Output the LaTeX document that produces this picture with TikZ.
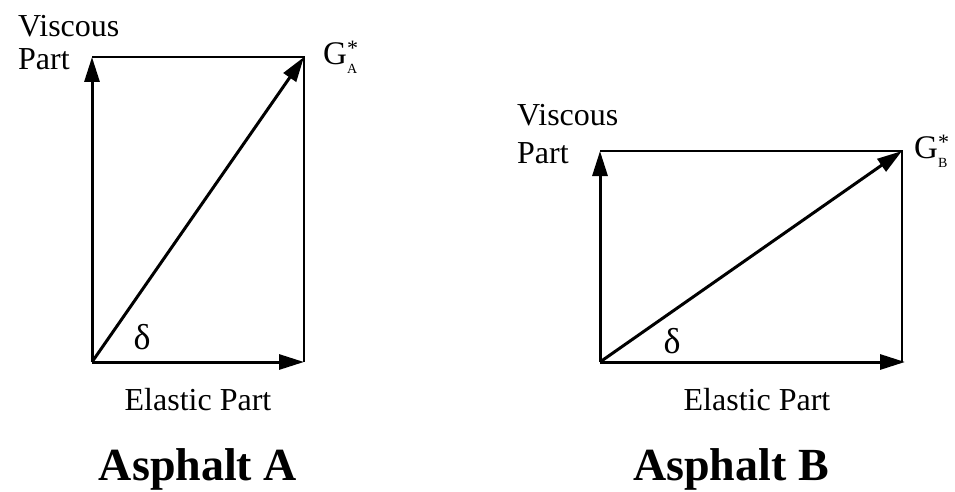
\documentclass[tikz,border=0pt]{standalone}
\usepackage{fontspec}
\setmainfont{Liberation Serif}
\usetikzlibrary{arrows.meta}
\newcommand{\gstar}[1]{G\rlap{\raisebox{9pt}{\fontsize{22}{22}\selectfont *}}\raisebox{-9pt}{\fontsize{14}{14}\selectfont #1}}
\begin{document}
\begin{tikzpicture}[x=1pt,y=-1pt,
  vec/.style={line width=3pt,-{Triangle[length=25pt,width=15pt]}},
  edge/.style={line width=2pt},
  lbl/.style={font=\fontsize{32}{34}\selectfont,inner sep=0pt},
  dl/.style={font=\fontsize{36}{38}\selectfont,inner sep=0pt},
  ttl/.style={font=\fontsize{46}{50}\selectfont\bfseries,inner sep=0pt,anchor=base},
  gl/.style={font=\fontsize{33}{34}\selectfont,inner sep=0pt,anchor=west}]
\useasboundingbox (0,0) rectangle (955,492);
% Asphalt A
\coordinate (a0) at (92,362);
\coordinate (ax) at (304,362);
\coordinate (ay) at (92,57);
\coordinate (ag) at (304,57);
\draw[edge] (ay) -- (ag) -- (ax);
\draw[vec] (a0) -- (ay);
\draw[vec] (a0) -- (ax);
\draw[vec] (a0) -- (ag);
\node[lbl,anchor=base west] (av) at (18,37) {Viscous};
\node[lbl,anchor=base west] (ap) at (18,70) {Part};
\node[gl] (agl) at (323,57) {\gstar{A}};
\node[dl] (ad) at (142,337) {δ};
\node[lbl] (ae) at (198,400) {Elastic Part};
\node[ttl] (at) at (198,480) {Asphalt A};
% Asphalt B
\coordinate (b0) at (600,362);
\coordinate (bx) at (905,362);
\coordinate (by) at (600,151);
\coordinate (bg) at (902,151);
\coordinate (br) at (902,362);
\draw[edge] (by) -- (bg) -- (br);
\draw[vec] (b0) -- (by);
\draw[vec] (b0) -- (bx);
\draw[vec] (b0) -- (bg);
\node[lbl,anchor=base west] (bv) at (517,125) {Viscous};
\node[lbl,anchor=base west] (bp) at (517,163) {Part};
\node[gl] (bgl) at (914,151) {\gstar{B}};
\node[dl] (bd) at (672,341) {δ};
\node[lbl] (be) at (757,400) {Elastic Part};
\node[ttl] (bt) at (731,480) {Asphalt B};
\end{tikzpicture}
\end{document}
